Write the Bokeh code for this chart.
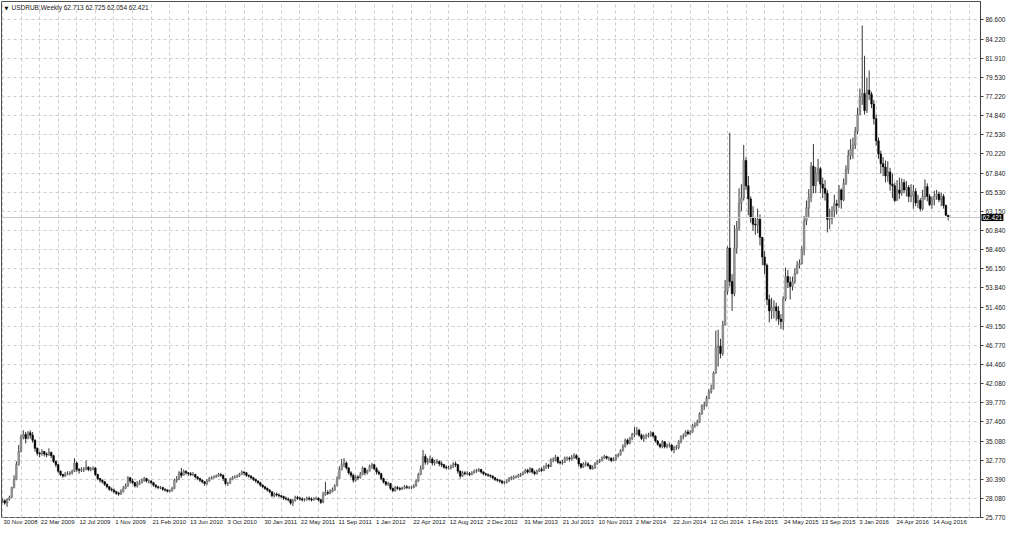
from bokeh.plotting import figure
from bokeh.models import (ColumnDataSource, FixedTicker, Span, Label,
                          PrintfTickFormatter, Range1d, LinearAxis)
from bokeh.embed import file_html
from bokeh.resources import INLINE

symbol = "USDRUB,Weekly"

# weekly bars, first bar = week of 30 Nov 2008, last = week of 2 Oct 2016
first_open = 27.70
closes = [
    27.80, 27.50, 27.95, 28.20, 29.40, 30.40, 32.20, 33.80, 35.60, 35.90,  # 0
    35.40, 36.10, 35.80, 35.20, 34.20, 33.60, 33.50, 33.80, 33.50, 33.40,  # 10
    33.70, 33.30, 32.60, 32.20, 31.40, 31.00, 30.80, 31.00, 31.10, 31.20,  # 20
    31.40, 32.40, 31.60, 31.50, 31.60, 31.70, 31.90, 31.60, 31.70, 31.80,  # 30
    31.00, 30.50, 30.30, 30.10, 29.80, 29.50, 29.20, 29.10, 28.90, 28.70,  # 40
    28.60, 28.90, 29.30, 29.60, 30.60, 30.20, 30.00, 29.60, 29.80, 30.00,  # 50
    30.30, 30.50, 30.20, 30.20, 30.00, 29.70, 29.50, 29.40, 29.40, 29.20,  # 60
    29.10, 28.95, 29.00, 29.30, 30.30, 30.40, 31.20, 30.90, 31.40, 31.20,  # 70
    31.10, 31.00, 31.00, 30.70, 30.50, 30.30, 30.10, 29.90, 30.20, 30.50,  # 80
    30.60, 30.70, 30.80, 31.00, 30.90, 30.50, 29.90, 29.90, 30.40, 30.60,  # 90
    30.70, 30.80, 31.00, 31.30, 31.20, 30.90, 30.80, 30.60, 30.40, 30.20,  # 100
    30.00, 29.70, 29.50, 29.30, 29.10, 28.90, 28.40, 28.60, 28.50, 28.40,  # 110
    28.30, 28.10, 28.00, 27.90, 27.50, 27.80, 28.20, 28.10, 28.00, 27.90,  # 120
    27.90, 28.10, 28.00, 27.90, 28.00, 28.10, 27.90, 27.60, 28.50, 28.80,  # 130
    28.70, 28.90, 29.10, 29.60, 30.50, 31.60, 32.20, 32.40, 31.80, 31.20,  # 140
    30.90, 30.30, 30.70, 30.60, 31.00, 31.80, 31.20, 31.40, 32.00, 32.20,  # 150
    31.70, 31.30, 31.10, 30.50, 30.10, 29.80, 29.90, 29.30, 29.00, 29.40,  # 160
    29.30, 29.20, 29.30, 29.50, 29.40, 29.40, 29.40, 29.60, 30.20, 31.00,  # 170
    31.70, 33.20, 32.50, 32.60, 32.90, 32.40, 32.50, 32.60, 32.30, 32.20,  # 180
    31.90, 31.80, 31.80, 31.90, 32.30, 32.20, 31.40, 30.80, 31.20, 31.10,  # 190
    31.10, 31.00, 31.20, 31.40, 31.50, 31.60, 31.30, 31.10, 31.00, 30.90,  # 200
    30.80, 30.60, 30.40, 30.30, 30.20, 30.00, 30.00, 30.20, 30.50, 30.60,  # 210
    30.70, 30.70, 30.90, 31.00, 31.20, 31.50, 31.30, 31.70, 31.30, 31.10,  # 220
    31.40, 31.60, 31.50, 31.80, 32.10, 32.00, 32.80, 32.80, 33.10, 32.50,  # 230
    32.40, 32.50, 33.00, 33.00, 32.90, 33.10, 33.30, 33.00, 32.30, 31.90,  # 240
    32.30, 32.30, 32.10, 31.70, 31.80, 32.30, 32.60, 32.70, 33.00, 33.20,  # 250
    33.00, 33.00, 32.70, 32.80, 33.30, 33.40, 33.90, 34.40, 35.20, 34.80,  # 260
    35.40, 35.90, 36.00, 36.40, 35.80, 35.40, 35.70, 35.70, 35.80, 36.10,  # 270
    35.70, 35.10, 34.70, 34.40, 35.00, 34.40, 34.60, 34.60, 34.00, 34.30,  # 280
    34.30, 35.00, 35.60, 35.70, 36.20, 36.00, 36.20, 37.00, 37.00, 37.40,  # 290
    38.40, 39.40, 39.40, 40.30, 41.10, 41.50, 43.40, 46.50, 46.70, 45.80,  # 300
    49.30, 53.40, 58.70, 54.60, 53.10, 58.70, 61.10, 64.20, 64.80, 69.40,  # 310
    66.30, 64.70, 62.40, 61.60, 61.50, 62.20, 60.00, 57.60, 56.60, 52.40,  # 320
    51.00, 51.40, 51.50, 51.00, 50.00, 49.70, 52.50, 55.20, 54.50, 54.00,  # 330
    54.60, 55.60, 56.60, 56.80, 58.50, 62.00, 63.60, 64.90, 68.70, 66.30,  # 340
    67.80, 68.40, 66.50, 66.00, 65.40, 62.20, 62.30, 63.20, 64.10, 63.90,  # 350
    65.80, 64.60, 66.60, 68.30, 70.00, 70.80, 71.30, 73.00, 75.00, 77.20,  # 360
    77.60, 75.50, 78.00, 77.50, 76.30, 74.50, 71.80, 70.20, 69.00, 68.60,  # 370
    67.50, 68.00, 66.50, 66.30, 64.50, 65.80, 65.40, 66.70, 65.80, 66.10,  # 380
    65.00, 65.10, 65.60, 64.20, 64.50, 63.50, 65.00, 66.20, 65.00, 64.00,  # 390
    64.60, 65.00, 65.30, 64.60, 65.00, 63.90, 62.713, 62.421,              # 400
]
highs = [
    28.05, 27.95, 28.10, 28.40, 29.50, 30.90, 32.60, 34.60, 35.90, 36.40,
    36.20, 36.30, 36.40, 36.20, 35.30, 34.30, 33.80, 34.10, 33.90, 33.70,
    34.20, 33.80, 33.40, 32.70, 32.30, 31.50, 31.10, 31.30, 31.40, 31.40,
    31.60, 33.00, 32.60, 31.80, 31.90, 31.90, 32.70, 32.00, 31.90, 32.00,
    31.90, 31.10, 30.60, 30.40, 30.20, 29.90, 29.60, 29.40, 29.30, 29.00,
    28.90, 29.20, 29.60, 29.90, 30.80, 30.70, 30.50, 30.10, 30.20, 30.30,
    30.50, 30.70, 30.60, 30.40, 30.30, 30.10, 29.80, 29.60, 29.60, 29.50,
    29.30, 29.20, 29.20, 29.50, 30.50, 30.80, 31.40, 31.80, 31.60, 31.50,
    31.30, 31.30, 31.30, 31.10, 30.80, 30.60, 30.40, 30.20, 30.40, 30.70,
    30.80, 30.90, 31.00, 31.20, 31.20, 31.00, 30.50, 30.10, 30.60, 30.80,
    30.90, 31.00, 31.20, 31.50, 31.40, 31.30, 31.00, 30.90, 30.70, 30.50,
    30.30, 30.10, 29.80, 29.60, 29.40, 29.20, 28.90, 28.80, 28.80, 28.70,
    28.50, 28.40, 28.30, 28.20, 28.00, 28.00, 28.40, 28.40, 28.30, 28.20,
    28.10, 28.30, 28.30, 28.20, 28.20, 28.30, 28.20, 28.00, 28.90, 30.10,
    29.10, 29.20, 29.40, 29.80, 30.80, 32.00, 32.90, 33.00, 32.60, 31.90,
    31.40, 31.10, 30.90, 30.90, 31.30, 32.00, 31.80, 31.60, 32.20, 32.40,
    32.30, 31.90, 31.50, 31.20, 30.60, 30.20, 30.10, 29.90, 29.40, 29.60,
    29.60, 29.50, 29.50, 29.70, 29.70, 29.60, 29.60, 29.80, 30.40, 31.20,
    32.10, 34.00, 33.50, 33.00, 33.30, 33.10, 32.80, 32.90, 32.70, 32.60,
    32.30, 32.10, 32.10, 32.20, 32.50, 32.60, 32.30, 31.50, 31.40, 31.40,
    31.40, 31.30, 31.40, 31.60, 31.70, 31.80, 31.70, 31.40, 31.20, 31.10,
    31.00, 30.90, 30.70, 30.50, 30.40, 30.30, 30.20, 30.40, 30.70, 30.80,
    30.90, 30.90, 31.10, 31.20, 31.40, 31.70, 31.70, 31.90, 31.80, 31.50,
    31.60, 31.80, 31.90, 32.10, 32.40, 32.30, 33.00, 33.10, 33.40, 33.20,
    32.70, 32.80, 33.20, 33.20, 33.20, 33.40, 33.60, 33.50, 33.10, 32.40,
    32.50, 32.60, 32.50, 32.20, 32.10, 32.50, 32.80, 32.90, 33.20, 33.40,
    33.30, 33.20, 33.10, 33.10, 33.50, 33.60, 34.10, 34.70, 35.40, 35.40,
    35.60, 36.10, 36.80, 36.80, 36.60, 36.00, 35.90, 36.00, 36.10, 36.30,
    36.20, 35.80, 35.20, 34.80, 35.20, 35.10, 34.80, 34.90, 34.70, 34.50,
    34.60, 35.20, 35.80, 36.00, 36.40, 36.50, 36.40, 37.20, 37.40, 37.70,
    38.60, 39.60, 39.90, 40.60, 41.40, 42.00, 43.60, 48.60, 48.70, 47.60,
    49.80, 54.80, 58.90, 72.80, 55.50, 61.50, 62.00, 66.00, 66.50, 71.30,
    69.80, 67.50, 65.00, 63.80, 62.50, 63.50, 62.80, 60.00, 58.30, 56.80,
    53.00, 52.60, 52.30, 52.00, 51.60, 50.60, 52.80, 56.30, 56.00, 55.20,
    55.20, 56.20, 57.10, 57.30, 58.90, 62.60, 64.50, 65.90, 69.20, 71.40,
    68.60, 69.60, 68.60, 67.30, 67.00, 65.80, 63.50, 63.80, 65.20, 64.60,
    66.40, 66.00, 67.20, 68.80, 70.70, 72.00, 72.20, 73.50, 75.80, 78.20,
    85.90, 82.20, 79.50, 80.40, 77.80, 76.80, 75.00, 72.20, 70.60, 69.80,
    69.40, 69.30, 68.50, 67.80, 66.70, 67.00, 67.30, 67.20, 67.10, 66.90,
    66.40, 66.50, 66.40, 66.00, 65.20, 64.80, 65.80, 67.10, 66.60, 65.30,
    65.00, 65.70, 65.80, 65.60, 65.50, 65.30, 64.00, 62.725,
]
lows = [
    27.55, 27.30, 27.05, 27.80, 28.10, 29.30, 30.30, 32.10, 33.70, 35.30,
    34.80, 35.30, 35.40, 34.90, 33.80, 33.30, 33.10, 33.30, 33.20, 33.10,
    33.30, 33.00, 32.40, 31.90, 31.20, 30.80, 30.60, 30.70, 30.90, 30.90,
    31.00, 31.30, 31.30, 31.10, 31.30, 31.30, 31.50, 31.40, 31.40, 31.50,
    30.80, 30.30, 30.00, 29.90, 29.60, 29.30, 29.00, 28.90, 28.70, 28.50,
    28.40, 28.50, 28.80, 29.20, 29.50, 29.90, 29.80, 29.40, 29.40, 29.70,
    29.90, 30.10, 30.00, 29.90, 29.80, 29.50, 29.30, 29.20, 29.20, 29.00,
    28.90, 28.80, 28.80, 28.90, 29.20, 30.00, 30.30, 30.60, 30.90, 31.00,
    30.80, 30.80, 30.80, 30.50, 30.30, 30.10, 29.90, 29.60, 29.70, 30.10,
    30.40, 30.50, 30.60, 30.70, 30.70, 30.20, 29.70, 29.60, 29.90, 30.30,
    30.50, 30.60, 30.70, 31.00, 30.90, 30.70, 30.60, 30.40, 30.20, 30.00,
    29.80, 29.50, 29.30, 29.10, 28.90, 28.70, 28.20, 28.20, 28.30, 28.20,
    28.10, 27.90, 27.80, 27.70, 27.30, 27.15, 27.70, 27.90, 27.80, 27.70,
    27.70, 27.80, 27.80, 27.70, 27.80, 27.90, 27.70, 27.40, 27.50, 28.40,
    28.50, 28.60, 28.80, 29.00, 29.60, 30.50, 31.50, 31.90, 31.60, 31.00,
    30.60, 30.00, 30.10, 30.30, 30.50, 30.90, 30.90, 31.00, 31.40, 31.70,
    31.50, 31.00, 30.90, 30.30, 29.90, 29.60, 29.60, 29.10, 28.90, 28.90,
    29.10, 29.00, 29.10, 29.20, 29.20, 29.20, 29.20, 29.30, 29.50, 30.10,
    30.90, 31.60, 32.20, 32.20, 32.40, 32.10, 32.10, 32.30, 32.00, 31.90,
    31.70, 31.60, 31.60, 31.60, 31.80, 31.90, 31.10, 30.50, 30.70, 30.90,
    30.90, 30.80, 30.90, 31.10, 31.20, 31.30, 31.10, 30.90, 30.80, 30.70,
    30.60, 30.40, 30.20, 30.10, 30.00, 29.80, 29.80, 29.90, 30.10, 30.30,
    30.40, 30.50, 30.60, 30.70, 30.90, 31.10, 31.10, 31.20, 31.10, 30.90,
    31.00, 31.30, 31.30, 31.40, 31.70, 31.70, 31.90, 32.50, 32.60, 32.30,
    32.20, 32.20, 32.40, 32.70, 32.60, 32.70, 32.90, 32.80, 32.00, 31.70,
    31.80, 32.00, 31.90, 31.60, 31.60, 31.70, 32.20, 32.40, 32.60, 32.90,
    32.80, 32.70, 32.50, 32.60, 32.70, 33.10, 33.30, 33.80, 34.30, 34.60,
    34.70, 35.20, 35.60, 35.80, 35.60, 35.20, 35.00, 35.30, 35.50, 35.60,
    35.50, 34.90, 34.50, 34.20, 34.20, 34.20, 34.20, 34.30, 33.80, 33.60,
    34.00, 34.10, 34.80, 35.30, 35.60, 35.80, 35.80, 36.10, 36.70, 36.90,
    37.30, 38.30, 38.90, 39.30, 40.20, 40.90, 41.40, 43.30, 44.20, 45.20,
    45.50, 49.20, 53.00, 54.00, 51.00, 52.80, 58.00, 60.80, 63.20, 64.50,
    65.80, 62.70, 61.80, 60.80, 60.30, 60.50, 59.00, 56.60, 55.50, 51.70,
    49.60, 50.00, 50.10, 49.80, 49.30, 48.80, 48.70, 52.20, 53.80, 52.40,
    53.50, 54.30, 55.50, 56.20, 56.70, 57.80, 61.50, 62.50, 64.30, 65.40,
    65.40, 66.80, 65.40, 64.80, 64.50, 60.60, 61.00, 61.60, 62.40, 62.80,
    63.60, 63.50, 64.40, 66.40, 67.80, 69.50, 69.60, 70.80, 72.60, 75.00,
    76.20, 75.00, 75.20, 76.80, 75.80, 73.80, 71.20, 69.60, 67.80, 67.50,
    66.70, 66.80, 65.70, 64.80, 64.30, 64.50, 64.70, 65.10, 65.40, 65.00,
    64.30, 64.30, 63.50, 63.80, 63.60, 63.20, 63.30, 64.60, 64.40, 63.80,
    63.50, 63.90, 64.60, 64.30, 63.80, 63.50, 62.60, 62.054,
]

# time scale labels, one every 16 bars
date_labels = [
    "30 Nov 2008", "22 Mar 2009", "12 Jul 2009", "1 Nov 2009", "21 Feb 2010",
    "13 Jun 2010", "3 Oct 2010", "30 Jan 2011", "22 May 2011", "11 Sep 2011",
    "1 Jan 2012", "22 Apr 2012", "12 Aug 2012", "2 Dec 2012", "31 Mar 2013",
    "21 Jul 2013", "10 Nov 2013", "2 Mar 2014", "22 Jun 2014", "12 Oct 2014",
    "1 Feb 2015", "24 May 2015", "13 Sep 2015", "3 Jan 2016", "24 Apr 2016",
    "14 Aug 2016",
]
price_levels = [
    86.600, 84.220, 81.910, 79.530, 77.220, 74.840, 72.530, 70.220, 67.840,
    65.530, 63.150, 60.840, 58.460, 56.150, 53.840, 51.460, 49.150, 46.770,
    44.460, 42.080, 39.770, 37.460, 35.080, 32.770, 30.390, 28.080, 25.770,
]

opens = [first_open] + closes[:-1]
bars = list(range(len(closes)))
label_bars = [16 * k for k in range(len(date_labels))]


def candle_source(bull):
    d = dict(x=[], top=[], bottom=[], h=[], l=[])
    for i, o, c, h, l in zip(bars, opens, closes, highs, lows):
        if (c >= o) == bull:
            d["x"].append(i)
            d["top"].append(max(o, c))
            d["bottom"].append(min(o, c))
            d["h"].append(h)
            d["l"].append(l)
    return ColumnDataSource(d)


font = "Liberation Sans"
y_top = 88.84
x_end = 420.9
px_per_bar = 2.33      # approx. frame width / bars shown
date_font_px = 6

p = figure(width=1008, height=527, output_backend="svg", toolbar_location=None,
           x_range=Range1d(-0.4, x_end), y_range=Range1d(25.74, y_top),
           y_axis_location="right", x_axis_location=None,
           min_border_left=1, min_border_top=1, min_border_right=0,
           min_border_bottom=0)
p.background_fill_color = "white"
p.border_fill_color = "white"
p.outline_line_color = "#505050"

# grid
p.xgrid.ticker = FixedTicker(ticks=list(range(0, 424, 8)))
p.ygrid.ticker = FixedTicker(ticks=price_levels)
for g in (p.xgrid, p.ygrid):
    g.grid_line_color = "#cccccc"
    g.grid_line_dash = "3 3"
    g.grid_line_width = 1

# price scale on the right
ax = p.yaxis[0]
ax.ticker = FixedTicker(ticks=price_levels)
ax.formatter = PrintfTickFormatter(format="%.3f")
ax.major_label_text_font = font
ax.major_label_text_font_size = "6.5px"
ax.major_label_text_color = "#202020"
ax.major_tick_in = 0
ax.major_tick_out = 3
ax.minor_tick_out = 0
ax.minor_tick_in = 0
ax.major_label_standoff = 2
ax.axis_line_color = "#404040"
ax.major_tick_line_color = "#404040"

# bid line
p.add_layout(Span(location=closes[-1], dimension="width",
                  line_color="#c8c8c8", line_width=1))

# candles
bull = candle_source(True)
bear = candle_source(False)
for src in (bull, bear):
    p.segment(x0="x", y0="l", x1="x", y1="h", source=src,
              line_color="#202020", line_width=0.9)
p.vbar(x="x", width=0.72, top="top", bottom="bottom", source=bull,
       fill_color="#9a9a9a", line_color="#6a6a6a", line_width=0.5)
p.vbar(x="x", width=0.72, top="top", bottom="bottom", source=bear,
       fill_color="black", line_color="black", line_width=0.5)

# current price box on the price scale (side panel, so it is not clipped)
p.add_layout(Label(x=x_end, y=closes[-1], text="%.3f" % closes[-1],
                   x_offset=1, text_align="left", text_baseline="middle",
                   text_font=font, text_font_size="6.5px", text_color="white",
                   background_fill_color="black", padding=1), "below")

# date texts start at their bar, like the terminal draws them;
# pulled up into the empty strip of the panel above
half_w = [(len(t) * 0.52 * date_font_px / 2 + 1) / px_per_bar for t in date_labels]
label_pos = [round(b + w, 2) for b, w in zip(label_bars, half_w)]
bx = LinearAxis(ticker=FixedTicker(ticks=label_pos),
                major_label_overrides=dict(zip(label_pos, date_labels)),
                major_label_text_font=font,
                major_label_text_font_size="%dpx" % date_font_px,
                major_label_text_color="#202020",
                major_tick_in=0, major_tick_out=0,
                minor_tick_in=0, minor_tick_out=0,
                major_label_standoff=-6,
                axis_line_color=None)
p.add_layout(bx, "below")

# header
header = "%s  %.3f %.3f %.3f %.3f" % (symbol, opens[-1], highs[-1], lows[-1],
                                      closes[-1])
p.add_layout(Label(x=3, x_units="screen", y=y_top, y_offset=-3, text="\u25bc",
                   text_baseline="top", text_font="DejaVu Sans",
                   text_font_size="5px", text_color="black"))
p.add_layout(Label(x=10, x_units="screen", y=y_top, y_offset=-2, text=header,
                   text_baseline="top", text_font=font,
                   text_font_size="6.5px", text_color="#202020"))

open("out.html", "w").write(file_html(p, INLINE))
